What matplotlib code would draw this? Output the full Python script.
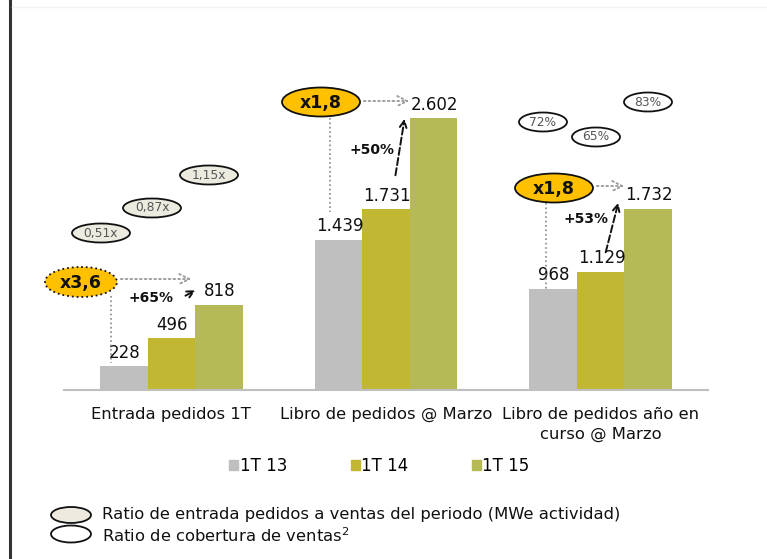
import matplotlib
matplotlib.use("Agg")
import matplotlib.pyplot as plt
from matplotlib.patches import Ellipse, Patch
import numpy as np

plt.rcParams['font.family'] = ['DejaVu Sans']

categories = ["Entrada pedidos 1T", "Libro de pedidos @ Marzo", "Libro de pedidos año en\ncurso @ Marzo"]
series_names = ["1T 13", "1T 14", "1T 15"]
v_1t13 = [228, 1439, 968]
v_1t14 = [496, 1731, 1129]
v_1t15 = [818, 2602, 1732]
labels_1t13 = ["228", "1.439", "968"]
labels_1t14 = ["496", "1.731", "1.129"]
labels_1t15 = ["818", "2.602", "1.732"]
colors = ["#BFBFBF", "#C2B733", "#B5B956"]

multipliers = ["x3,6", "x1,8", "x1,8"]
growth = ["+65%", "+50%", "+53%"]
ratio_orders = ["0,51x", "0,87x", "1,15x"]
ratio_cover = ["72%", "65%", "83%"]

W, H = 767, 559
fig = plt.figure(figsize=(W / 100, H / 100), dpi=100)

# main axes: x from 64px to 708px, baseline at 390px
ax = fig.add_axes([64 / W, (H - 390) / H, (708 - 64) / W, 390 / H])
x = np.arange(len(categories))
bw = 0.2214
series = [v_1t13, v_1t14, v_1t15]
lbls = [labels_1t13, labels_1t14, labels_1t15]
for i, (vals, lab) in enumerate(zip(series, lbls)):
    ax.bar(x + (i - 1) * bw, vals, width=bw, color=colors[i], label=series_names[i], zorder=2)
    for xi, v, t in zip(x + (i - 1) * bw, vals, lab):
        ax.text(xi + 0.005, v + 45, t, ha="center", va="bottom", fontsize=12, color="#111111", zorder=5)

ax.set_xlim(-0.5, 2.5)
ax.set_ylim(0, 3736)
for s in ["top", "right", "left"]:
    ax.spines[s].set_visible(False)
ax.spines["bottom"].set_color("#BFBFBF")
ax.spines["bottom"].set_linewidth(1.5)
ax.set_yticks([])
ax.set_xticks(x)
ax.set_xticklabels(categories, fontsize=11.8, color="#111111", linespacing=1.4)
ax.tick_params(axis="x", length=0, pad=12)
ax.patch.set_alpha(0)

# legend
fig.legend(handles=[Patch(color=c) for c in colors], labels=series_names,
           loc="center", bbox_to_anchor=(0.4948, (H - 466) / H), ncol=3, frameon=False,
           fontsize=12, handlelength=0.55, handleheight=0.55, handletextpad=0.1,
           columnspacing=3.78)

# overlay axes in pixel coordinates for annotations
ov = fig.add_axes([0, 0, 1, 1])
ov.set_xlim(0, W)
ov.set_ylim(H, 0)
ov.axis("off")
ov.patch.set_alpha(0)

# left border line & faint top line
ov.plot([10, 10], [0, H], color="#333333", lw=2.2)
ov.plot([12, W], [7, 7], color="#F2F2F2", lw=1)

# ratio ellipses (orders)
for (cx, cy), t in zip([(101, 233), (152, 208), (209, 175)], ratio_orders):
    ov.add_patch(Ellipse((cx, cy), 58, 19, facecolor="#EDEBE0", edgecolor="#111111", lw=1.3, zorder=4))
    ov.text(cx, cy, t, ha="center", va="center", fontsize=8.8, color="#555555", zorder=5)
# coverage ellipses
for (cx, cy), t in zip([(543, 122), (596, 137), (648, 102)], ratio_cover):
    ov.add_patch(Ellipse((cx, cy), 48, 19, facecolor="white", edgecolor="#111111", lw=1.3, zorder=4))
    ov.text(cx, cy, t, ha="center", va="center", fontsize=8.8, color="#555555", zorder=5)

# multiplier ellipses
mult_pos = [(81, 282, 72, 30, ":"), (321, 102, 78, 29, "-"), (554, 188, 78, 29, "-")]
for (cx, cy, w, h, ls), t in zip(mult_pos, multipliers):
    ov.add_patch(Ellipse((cx, cy), w, h, facecolor="#FFC000", edgecolor="#111111", lw=1.3, ls=ls, zorder=4))
    ov.text(cx, cy + 1, t, ha="center", va="center", fontsize=12.5, fontweight="bold", color="#111111", zorder=5)

# dotted horizontal arrows
harrows = [(118, 194, 279), (361, 412, 101), (594, 627, 186)]
for x0, x1, y in harrows:
    ov.annotate("", xy=(x1, y), xytext=(x0, y),
                arrowprops=dict(arrowstyle="->", color="#999999", lw=1.3, ls=":",
                                mutation_scale=18), zorder=3)
# dotted vertical connectors
vlines = [(111, 296, 363), (330, 118, 212), (546, 203, 290)]
for xx, y0, y1 in vlines:
    ov.plot([xx, xx], [y0, y1], color="#888888", lw=1.2, ls=":", zorder=3)

# dashed growth arrows
garrows = [((183, 297), (198, 289)), ((395, 178), (405, 116)), ((605, 255), (619, 200))]
for (p0, p1) in garrows:
    ov.annotate("", xy=p1, xytext=p0,
                arrowprops=dict(arrowstyle="->", color="#111111", lw=1.4, ls="--",
                                mutation_scale=12), zorder=6)
for (cx, cy), t in zip([(151, 298), (372, 150), (586, 219)], growth):
    ov.text(cx, cy, t, ha="center", va="center", fontsize=10, fontweight="bold", color="#111111", zorder=6)

# bottom legend
ov.add_patch(Ellipse((71, 515), 40, 16, facecolor="#EDEBE0", edgecolor="#111111", lw=1.3))
ov.add_patch(Ellipse((71, 534), 40, 17, facecolor="white", edgecolor="#111111", lw=1.3))
ov.text(102, 514, "Ratio de entrada pedidos a ventas del periodo (MWe actividad)", ha="left", va="center",
        fontsize=11.8, color="#111111")
ov.text(102, 536, "Ratio de cobertura de ventas$^{2}$", ha="left", va="center",
        fontsize=11.8, color="#111111")

fig.savefig("out.png", dpi=100)
